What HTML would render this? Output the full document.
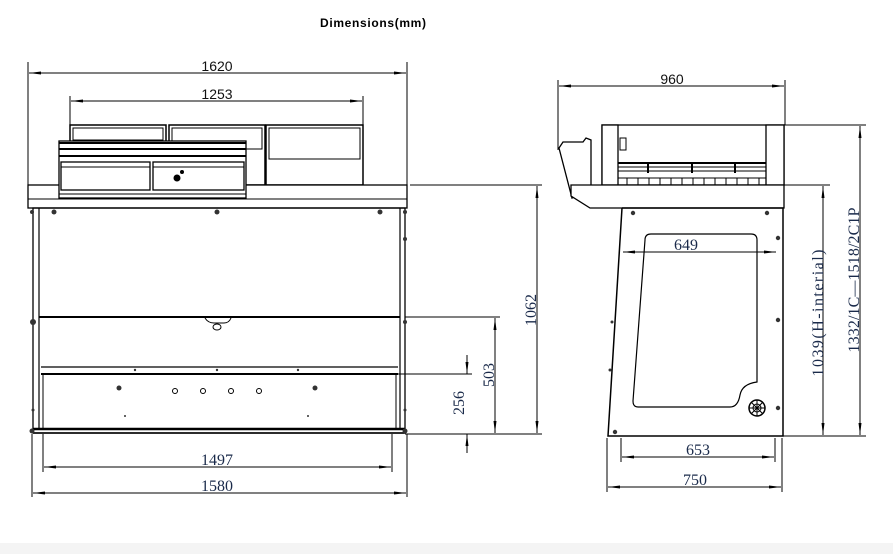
<!DOCTYPE html>
<html><head><meta charset="utf-8"><style>
html,body{margin:0;padding:0;background:#fff;}
svg{display:block}
.d{font-family:"Liberation Sans",sans-serif;font-size:14px;fill:#111;}
.s{font-family:"Liberation Serif",serif;font-size:16px;fill:#1a2a4a;}
</style></head><body>
<svg width="893" height="554" viewBox="0 0 893 554" xmlns="http://www.w3.org/2000/svg">
<defs>
<marker id="a" markerWidth="12" markerHeight="6" refX="12" refY="3" orient="auto-start-reverse" markerUnits="userSpaceOnUse"><path d="M0,1.5 L12,3 L0,4.5Z" fill="#000"/></marker>
</defs>
<rect width="893" height="554" fill="#fff"/>
<rect x="0" y="543" width="893" height="11" fill="#f4f4f4"/>
<text x="373" y="27" text-anchor="middle" font-family="Liberation Sans,sans-serif" font-weight="bold" font-size="12" fill="#000" textLength="106">Dimensions(mm)</text>

<g stroke="#000" stroke-width="1" fill="none">
<line x1="28" y1="62" x2="28" y2="185"/><line x1="407" y1="62" x2="407" y2="185"/>
<line x1="29" y1="73" x2="406" y2="73" marker-start="url(#a)" marker-end="url(#a)"/>
<line x1="70" y1="96" x2="70" y2="125"/><line x1="363" y1="96" x2="363" y2="125"/>
<line x1="71" y1="101" x2="362" y2="101" marker-start="url(#a)" marker-end="url(#a)"/>
</g>
<text class="d" x="217" y="71" text-anchor="middle">1620</text>
<text class="d" x="217" y="99" text-anchor="middle">1253</text>

<g stroke="#000" fill="#fff">
<rect x="70" y="125" width="96" height="60" stroke-width="1.5"/>
<rect x="73" y="128" width="90" height="12"/>
<rect x="169" y="125" width="96" height="60" stroke-width="1.5"/>
<rect x="172" y="128" width="90" height="21"/>
<rect x="266" y="125" width="97" height="60" stroke-width="1.5"/>
<rect x="269" y="128" width="91" height="31"/>
<rect x="28" y="185" width="379" height="23" stroke-width="1.3"/>
<line x1="28" y1="199" x2="407" y2="199"/>
<rect x="59" y="141" width="187" height="57" stroke-width="1.3"/>
<line x1="59" y1="143" x2="246" y2="143" stroke-width="2"/>
<line x1="59" y1="149" x2="246" y2="149" stroke-width="2"/>
<line x1="59" y1="156" x2="246" y2="156" stroke-width="2"/>
<rect x="61" y="162" width="89" height="28" stroke-width="1.3"/>
<line x1="61" y1="167" x2="150" y2="167"/>
<rect x="153" y="162" width="91" height="28" stroke-width="1.3"/>
<line x1="153" y1="167" x2="244" y2="167"/>
<line x1="59" y1="194" x2="246" y2="194"/>
</g>
<circle cx="177" cy="178" r="3.5" fill="#000"/><circle cx="182" cy="172" r="2" fill="#000"/>

<g stroke="#000" fill="none">
<rect x="33" y="208" width="372" height="225" stroke-width="1.3"/>
<line x1="39" y1="208" x2="39" y2="430" stroke-width="1.2"/>
<line x1="400" y1="208" x2="400" y2="430" stroke-width="1.2"/>
<line x1="39" y1="317" x2="400" y2="317" stroke-width="2"/>
<path d="M205,318 Q208,323 214,323 L224,323 Q229,323 231,318"/>
<ellipse cx="217" cy="327" rx="4" ry="3"/>
<line x1="41" y1="367" x2="398" y2="367" stroke-width="1.3"/>
<line x1="41" y1="374" x2="398" y2="374" stroke-width="2"/>
<line x1="43" y1="374" x2="43" y2="429"/><line x1="396" y1="374" x2="396" y2="429"/>
<line x1="33" y1="429" x2="405" y2="429" stroke-width="2.5"/>
<line x1="33" y1="433" x2="405" y2="433" stroke-width="1.5"/>
<circle cx="175" cy="391" r="2.5"/><circle cx="203" cy="391" r="2.5"/><circle cx="231" cy="391" r="2.5"/><circle cx="259" cy="391" r="2.5"/>
</g>
<g fill="#333">
<circle cx="54" cy="212" r="2.5"/><circle cx="217" cy="212" r="2.5"/><circle cx="380" cy="212" r="2.5"/>
<circle cx="32" cy="212" r="2"/><circle cx="405" cy="212" r="2"/><circle cx="405" cy="239" r="2"/>
<circle cx="33" cy="322" r="3"/><circle cx="405" cy="322" r="2"/>
<circle cx="119" cy="388" r="2.5"/><circle cx="315" cy="388" r="2.5"/>
<circle cx="125" cy="416" r="1"/><circle cx="308" cy="416" r="1"/>
<circle cx="32" cy="431" r="2.5"/><circle cx="405" cy="431" r="2.5"/>
<circle cx="33" cy="410" r="1.5"/><circle cx="405" cy="410" r="1.5"/>
<circle cx="135" cy="370" r="1.2"/><circle cx="217" cy="370" r="1.2"/><circle cx="298" cy="370" r="1.2"/>
</g>

<g stroke="#000" fill="none">
<line x1="410" y1="185" x2="542" y2="185"/>
<line x1="405" y1="317" x2="500" y2="317"/>
<line x1="398" y1="374" x2="472" y2="374"/>
<line x1="405" y1="434" x2="542" y2="434"/>
<line x1="537" y1="186" x2="537" y2="433" marker-start="url(#a)" marker-end="url(#a)"/>
<line x1="495" y1="318" x2="495" y2="433" marker-start="url(#a)" marker-end="url(#a)"/>
<line x1="467" y1="355" x2="467" y2="374" marker-end="url(#a)"/>
<line x1="467" y1="453" x2="467" y2="434" marker-end="url(#a)"/>
<line x1="32" y1="434" x2="32" y2="497"/><line x1="407" y1="434" x2="407" y2="497"/>
<line x1="43" y1="434" x2="43" y2="472"/><line x1="392" y1="434" x2="392" y2="472"/>
<line x1="44" y1="467" x2="391" y2="467" marker-start="url(#a)" marker-end="url(#a)"/>
<line x1="33" y1="493" x2="406" y2="493" marker-start="url(#a)" marker-end="url(#a)"/>
</g>
<text class="s" transform="translate(536,310) rotate(-90)" text-anchor="middle">1062</text>
<text class="s" transform="translate(494,375) rotate(-90)" text-anchor="middle">503</text>
<text class="s" transform="translate(464,403) rotate(-90)" text-anchor="middle">256</text>
<text class="s" x="217" y="465" text-anchor="middle">1497</text>
<text class="s" x="217" y="491" text-anchor="middle">1580</text>

<g stroke="#000" fill="none">
<line x1="558" y1="80" x2="558" y2="150"/><line x1="785" y1="80" x2="785" y2="125"/>
<line x1="559" y1="86" x2="784" y2="86" marker-start="url(#a)" marker-end="url(#a)"/>
</g>
<text class="d" x="672" y="84" text-anchor="middle">960</text>
<g stroke="#000" fill="#fff" stroke-width="1.3">
<rect x="602" y="125" width="182" height="60"/>
<rect x="602" y="125" width="16" height="60"/>
<rect x="766" y="125" width="18" height="60"/>
<path d="M559,148 L563,142 L583,142 L586,138 L591,140 L591,188 L572,198 Z" fill="#fff"/>
<path d="M571,185 L784,185 L784,208 L590,208 L571,196 Z"/>
</g>
<g stroke="#000" fill="none">
<line x1="618" y1="163" x2="766" y2="163" stroke-width="2"/>
<line x1="618" y1="167" x2="766" y2="167"/>
<line x1="618" y1="171" x2="766" y2="171"/>
<line x1="618" y1="178" x2="766" y2="178"/>
<rect x="620" y="138" width="6" height="12"/>
<path d="M648,163 V173 M692,163 V173 M735,163 V173" stroke-width="2"/>
<path d="M627,178 V185 M638,178 V185 M649,178 V185 M660,178 V185 M671,178 V185 M682,178 V185 M693,178 V185 M704,178 V185 M715,178 V185 M726,178 V185 M737,178 V185 M748,178 V185 M759,178 V185"/>
<path d="M622,208 L783,208 L783,436 L608,436 L622,208" stroke-width="1.5"/>
<path d="M651,234 L751,234 Q757,234 757,240 L757,382 Q742,384 740,395 Q738,407 730,407 L638,407 Q633,407 633,401 L645,240 Q645,234 651,234 Z" stroke-width="1.2"/>
<circle cx="757" cy="408" r="8" stroke-width="1.5"/>
<circle cx="757" cy="408" r="4"/>
<path d="M751,402 L763,414 M763,402 L751,414 M757,400 V416 M749,408 H765"/>
<line x1="623" y1="252" x2="776" y2="252" marker-start="url(#a)" marker-end="url(#a)"/>
<line x1="784" y1="185" x2="830" y2="185"/>
<line x1="784" y1="125" x2="866" y2="125"/>
<line x1="783" y1="436" x2="866" y2="436"/>
<line x1="823" y1="186" x2="823" y2="435" marker-start="url(#a)" marker-end="url(#a)"/>
<line x1="860" y1="126" x2="860" y2="435" marker-start="url(#a)" marker-end="url(#a)"/>
<line x1="607" y1="438" x2="607" y2="492"/><line x1="621" y1="438" x2="621" y2="462"/>
<line x1="775" y1="438" x2="775" y2="462"/><line x1="782" y1="438" x2="782" y2="492"/>
<line x1="622" y1="457" x2="774" y2="457" marker-start="url(#a)" marker-end="url(#a)"/>
<line x1="608" y1="487" x2="781" y2="487" marker-start="url(#a)" marker-end="url(#a)"/>
</g>
<g fill="#333">
<circle cx="633" cy="213" r="2.2"/><circle cx="767" cy="213" r="2.2"/><circle cx="778" cy="238" r="2.2"/>
<circle cx="778" cy="320" r="2.2"/><circle cx="778" cy="408" r="2.2"/><circle cx="615" cy="432" r="2.2"/>
<circle cx="612" cy="322" r="1.5"/><circle cx="610" cy="370" r="1.5"/>
</g>
<text class="s" x="686" y="250" text-anchor="middle">649</text>
<text class="s" transform="translate(823,313) rotate(-90)" text-anchor="middle" textLength="127" lengthAdjust="spacing">1039(H-interial)</text>
<text class="s" transform="translate(859,280) rotate(-90)" text-anchor="middle" textLength="145" lengthAdjust="spacing">1332/1C—1518/2C1P</text>
<text class="s" x="698" y="455" text-anchor="middle">653</text>
<text class="s" x="695" y="485" text-anchor="middle">750</text>
</svg>
</body></html>
